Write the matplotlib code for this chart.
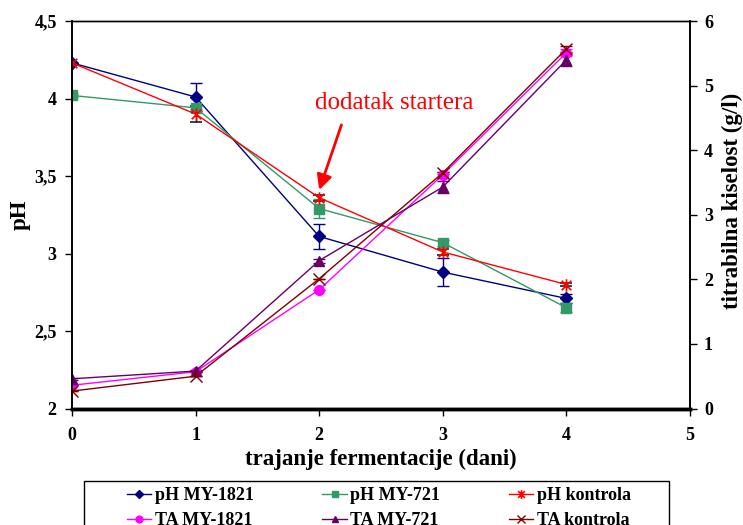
import matplotlib
matplotlib.use("Agg")
import matplotlib.pyplot as plt
from matplotlib.path import Path
from matplotlib.lines import Line2D
from matplotlib.patches import Rectangle

plt.rcParams['font.family'] = ['Liberation Serif', 'DejaVu Serif']

days = [0, 1, 2, 3, 4]

# pH values
ph_my1821 = [4.23, 4.01, 3.11, 2.88, 2.71]
ph_my1821_err = [0.0, 0.09, 0.08, 0.09, 0.03]
ph_my721 = [4.02, 3.94, 3.29, 3.07, 2.65]
ph_my721_err = [0.01, 0.01, 0.06, 0.02, 0.03]
ph_kontrola = [4.23, 3.90, 3.36, 3.01, 2.80]
ph_kontrola_err = [0.0, 0.05, 0.02, 0.02, 0.01]

# titratable acidity (g/l)
ta_my1821 = [0.36, 0.57, 1.84, 3.62, 5.51]
ta_my1821_err = [0.0, 0.0, 0.0, 0.05, 0.05]
ta_my721 = [0.46, 0.58, 2.29, 3.43, 5.40]
ta_my721_err = [0.02, 0.02, 0.03, 0.10, 0.10]
ta_kontrola = [0.27, 0.50, 2.01, 3.65, 5.57]
ta_kontrola_err = [0.0, 0.0, 0.0, 0.02, 0.05]

ph_ticks = [2, 2.5, 3, 3.5, 4, 4.5]
ph_ticklabels = ['2', '2,5', '3', '3,5', '4', '4,5']
ta_ticks = [0, 1, 2, 3, 4, 5, 6]
x_ticks = [0, 1, 2, 3, 4, 5]

# Excel-style star marker: an "x" crossed by a vertical stroke
star_path = Path(
    [(-1, -1), (1, 1), (-1, 1), (1, -1), (0, -1.3), (0, 1.3)],
    [Path.MOVETO, Path.LINETO, Path.MOVETO, Path.LINETO, Path.MOVETO, Path.LINETO],
)

series_ph = [
    ('pH MY-1821', ph_my1821, ph_my1821_err, dict(color='#000080', marker='D', markersize=6)),
    ('pH MY-721', ph_my721, ph_my721_err, dict(color='#339966', marker='s', markersize=7)),
    ('pH kontrola', ph_kontrola, ph_kontrola_err,
     dict(color='#FF0000', marker=star_path, markersize=9, markeredgewidth=1.2)),
]
series_ta = [
    ('TA MY-1821', ta_my1821, ta_my1821_err, dict(color='#FF00FF', marker='o', markersize=7)),
    ('TA MY-721', ta_my721, ta_my721_err, dict(color='#660066', marker='^', markersize=7)),
    ('TA kontrola', ta_kontrola, ta_kontrola_err,
     dict(color='#800000', marker='x', markersize=8, markeredgewidth=1.0)),
]

fig = plt.figure(figsize=(7.43, 5.25), dpi=100)
ax = fig.add_axes([0.0969, 0.2219, 0.8318, 0.738])
ax2 = ax.twinx()

lw = 1.0
for name, vals, err, style in series_ph:
    ecolor = '#202020' if name == 'pH kontrola' else style['color']
    ax.errorbar(days, vals, yerr=err, lw=lw, elinewidth=1, capsize=4,
                ecolor=ecolor, **style)
for name, vals, err, style in series_ta:
    ax2.errorbar(days, vals, yerr=err, lw=lw, elinewidth=1, capsize=4, **style)

ax.set_xlim(0, 5)
ax.set_ylim(2, 4.5)
ax2.set_ylim(0, 6)
ax.set_xticks(x_ticks)
ax.set_yticks(ph_ticks)
ax.set_yticklabels(ph_ticklabels)
ax2.set_yticks(ta_ticks)

for lbl in ax.get_xticklabels() + ax.get_yticklabels() + ax2.get_yticklabels():
    lbl.set_fontsize(13)
    lbl.set_fontweight('bold')

ax.tick_params(axis='x', direction='out', length=5, pad=8, width=1)
ax.tick_params(axis='y', direction='out', length=5, pad=6, width=1)
ax2.tick_params(axis='y', direction='out', length=5, pad=5, width=1)

for a in (ax, ax2):
    a.spines['bottom'].set_linewidth(2.5)
    a.spines['top'].set_linewidth(1.0)
    a.spines['left'].set_linewidth(1.2)
    a.spines['right'].set_linewidth(1.2)

ax.set_xlabel('trajanje fermentacije (dani)', fontsize=16.5, fontweight='bold', labelpad=4)
ax.set_ylabel('pH', fontsize=16.5, fontweight='bold', labelpad=3)
ax2.set_ylabel('titrabilna kiselost (g/l)', fontsize=16.5, fontweight='bold', labelpad=6)
ax2.yaxis.set_label_coords(1.052, 0.535)

# starter addition annotation
ax2.text(2.61, 3.97, 'dodatak startera', transform=ax.transData, color='#FF0000',
         fontsize=18, ha='center', va='center')
ax2.annotate('', xy=(2.0, 3.41), xycoords=ax.transData,
             xytext=(2.18, 3.83), textcoords=ax.transData,
             arrowprops=dict(arrowstyle='-|>,head_length=0.9,head_width=0.45',
                             color='#FF0000', lw=2, shrinkA=0, shrinkB=0))

# legend: pH series on the first row, TA series on the second
handles, labels = [], []
for (n1, _, _, s1), (n2, _, _, s2) in zip(series_ph, series_ta):
    for n, s in ((n1, s1), (n2, s2)):
        st = dict(s)
        st['markersize'] = st['markersize'] * 0.7
        handles.append(Line2D([], [], lw=lw, **st))
        labels.append(n)

fig.patches.append(Rectangle((0.113, -0.05), 0.787, 0.1338, transform=fig.transFigure,
                             facecolor='white', edgecolor='black', lw=1.0, zorder=1))
leg = fig.legend(handles, labels, ncol=3, loc='upper left',
                 bbox_to_anchor=(0.1588, 0.0895), frameon=False,
                 prop=dict(size=13, weight='bold'), handlelength=1.35,
                 handletextpad=0.2, columnspacing=3.8, borderpad=0.0,
                 labelspacing=0.45)

fig.savefig('out.png', dpi=100)
